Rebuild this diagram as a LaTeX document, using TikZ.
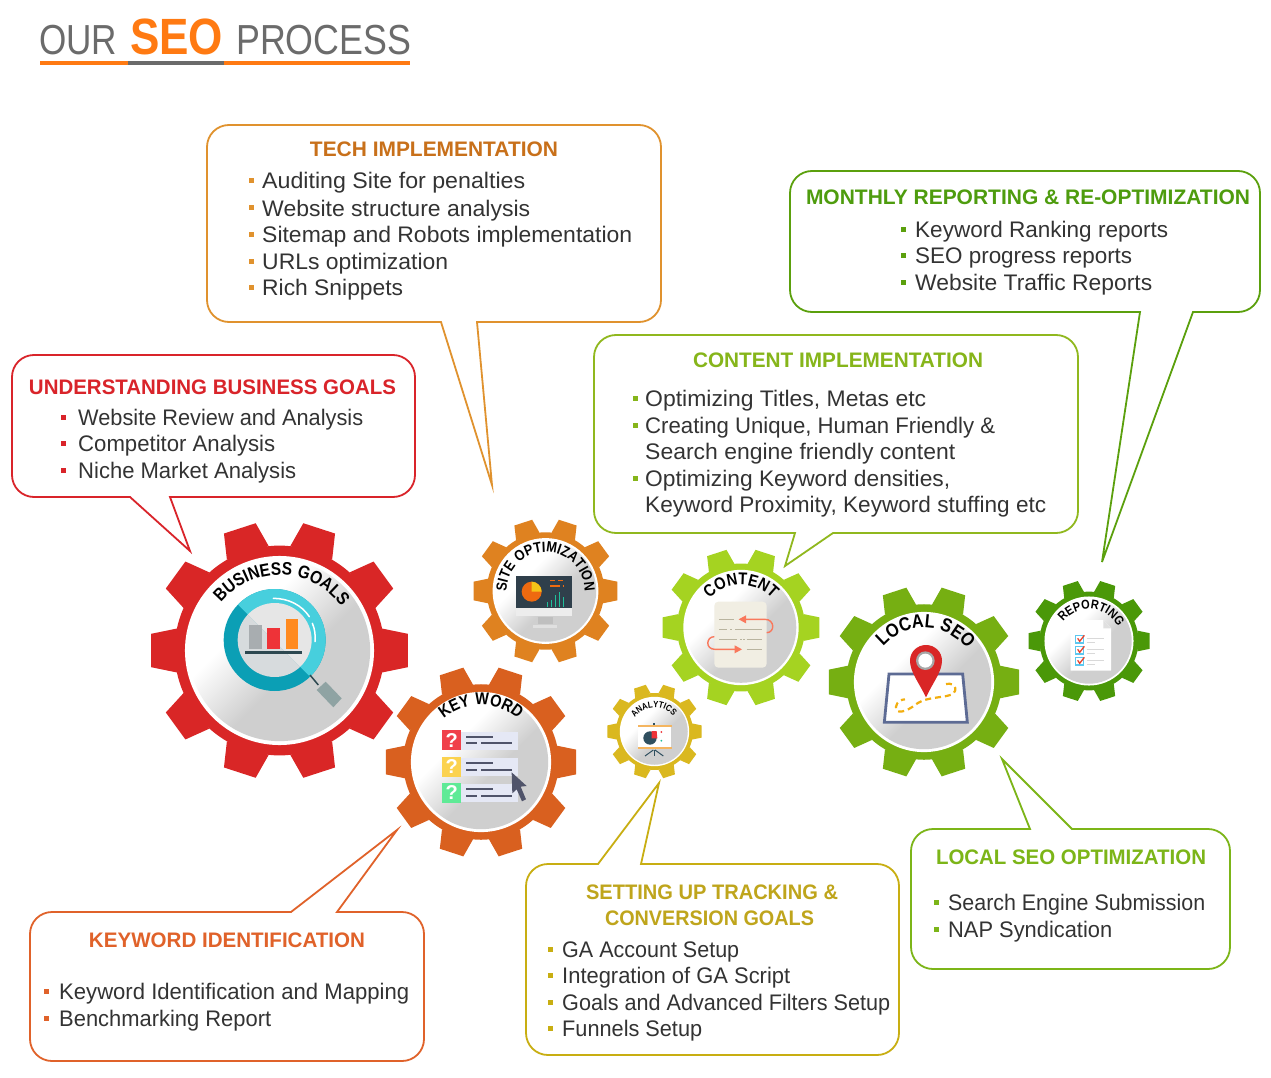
\documentclass[tikz,border=0pt]{standalone}
\usepackage{fontspec}
\usepackage{graphicx}
\usetikzlibrary{decorations.text}
\setmainfont{Liberation Sans}
\newfontfamily\arcfont[LetterSpace=3,FakeStretch=0.86]{Liberation Sans}
\definecolor{dg}{HTML}{CFCFCF}
\definecolor{cred}{HTML}{D92626}
\definecolor{ckey}{HTML}{D9601F}
\definecolor{csite}{HTML}{DF8220}
\definecolor{ccont}{HTML}{A5D321}
\definecolor{cana}{HTML}{DAB81F}
\definecolor{cloc}{HTML}{76AF12}
\definecolor{crep}{HTML}{4A9808}
\definecolor{btech}{HTML}{E0922E}
\definecolor{htech}{HTML}{C8701A}
\definecolor{bbiz}{HTML}{D9242A}
\definecolor{bmon}{HTML}{5BA00D}
\definecolor{hmon}{HTML}{4E9C0E}
\definecolor{bcont}{HTML}{90B81E}
\definecolor{hcont}{HTML}{86B51A}
\definecolor{bkey}{HTML}{E0622A}
\definecolor{btrk}{HTML}{C8AE12}
\definecolor{htrk}{HTML}{BFA51C}
\definecolor{bloc}{HTML}{7CB518}
\definecolor{txtc}{HTML}{333333}
\definecolor{torg}{HTML}{FF7A12}
\definecolor{tgry}{HTML}{6B6B6B}
\definecolor{tealL}{HTML}{47CFDD}
\definecolor{tealD}{HTML}{0B9FB5}
\definecolor{lensL}{HTML}{E6E6E6}
\definecolor{lensD}{HTML}{D7DBDD}
\definecolor{barG}{HTML}{A8ADB0}
\definecolor{barR}{HTML}{EE3338}
\definecolor{barO}{HTML}{FF8A1F}
\definecolor{shelfc}{HTML}{2D4850}
\definecolor{handc}{HTML}{8FA3A3}
\definecolor{rowbg}{HTML}{E5E8F5}
\definecolor{rowln}{HTML}{50546A}
\definecolor{scrc}{HTML}{2F3F4B}
\definecolor{pieO}{HTML}{EE6A10}
\definecolor{pieY}{HTML}{F5C518}
\definecolor{grnc}{HTML}{1FBF9A}
\definecolor{docc}{HTML}{F1EEE3}
\definecolor{llc}{HTML}{B9B49F}
\definecolor{arwc}{HTML}{F9785C}
\definecolor{brdc}{HTML}{F4B560}
\definecolor{anapie}{HTML}{2F4F5F}
\definecolor{mapc}{HTML}{5D6B94}
\definecolor{dashY}{HTML}{F2AE0E}
\definecolor{chkb}{HTML}{5CC8F0}
\definecolor{chkr}{HTML}{E8402A}
\pgfdeclareverticalshading{discsh}{100bp}{color(0bp)=(dg);color(44bp)=(dg);color(62bp)=(white);color(100bp)=(white)}
\tikzset{
 bodytext/.style={anchor=base west,inner sep=0pt,text=txtc,font=\fontsize{22.5}{24}\selectfont},
 headtext/.style={anchor=base,inner sep=0pt,font=\fontsize{21}{24}\selectfont\bfseries},
 bubble/.style={line width=1.8pt,fill=white},
 zA/.style={x={(0.33333pt,0pt)},y={(0pt,-0.33333pt)},shift={(140pt,-510pt)}},
 zB/.style={x={(0.33333pt,0pt)},y={(0pt,-0.33333pt)},shift={(470pt,-510pt)}},
 zC/.style={x={(0.33333pt,0pt)},y={(0pt,-0.33333pt)},shift={(820pt,-570pt)}},
}
\newcommand{\gearbody}[4]{%
 \begin{scope}[shift={(#1,-#2)}]
 \fill[#4] (0,0) circle[radius={0.81*#3}];
 \foreach \a in {0,36,...,324}{
  \fill[#4] ({\a+12.1}:{0.81*#3}) -- ({\a+7.4}:#3) -- ({\a-7.4}:#3) -- ({\a-12.1}:{0.81*#3}) -- cycle;}
 \fill[white] (0,0) circle[radius={0.73*#3}];
 \shade[shading=discsh,shading angle=45] (0,0) circle[radius={0.70*#3}];
 \end{scope}}
\newcommand{\arctext}[7]{%
 \path[decorate,decoration={text along path,text align=center,
   text={|\fontsize{#6}{#6}\selectfont\arcfont\bfseries|#7}}]
   ([shift={({#4+#5}:#3)}]#1,-#2) arc[start angle={#4+#5},end angle={#4-#5},radius=#3];}
\newcommand{\bubblebot}[9]{%
 \draw[bubble,draw=#5,rounded corners=22pt] (#9,-#4) -- (#3,-#4) -- (#3,-#2) -- (#1,-#2) -- (#1,-#4) [sharp corners] -- (#6,-#4) -- (#7,-#8) -- cycle;}
\newcommand{\bubbletop}[9]{%
 \draw[bubble,draw=#5,rounded corners=22pt] (#9,-#2) -- (#3,-#2) -- (#3,-#4) -- (#1,-#4) -- (#1,-#2) [sharp corners] -- (#6,-#2) -- (#7,-#8) -- cycle;}
\newcommand{\blt}[3]{\fill[#3] ({#1-2.5},{-#2-2.5}) rectangle ({#1+2.5},{-#2+2.5});}
\newcommand{\lin}[5]{\node[bodytext] (#1) at (#2,{-#3-8}) {\resizebox{#4pt}{\height}{#5}};}
\newcommand{\hd}[6]{\node[headtext,text=#5] (#1) at (#2,{-#3-7.5}) {\resizebox{#4pt}{\height}{#6}};}
\begin{document}
\begin{tikzpicture}[x=1pt,y=1pt]
\useasboundingbox (0,0) rectangle (1271,-1078);
\fill[white] (0,0) rectangle (1271,-1078);
\node[anchor=base west,inner sep=0pt,text=tgry] (tour) at (39,-55) {\resizebox{78pt}{\height}{\fontsize{42}{42}\selectfont OUR}};
\node[anchor=base west,inner sep=0pt,text=torg] (tseo) at (130,-55) {\resizebox{93pt}{\height}{\fontsize{51}{51}\selectfont\bfseries SEO}};
\node[anchor=base west,inner sep=0pt,text=tgry] (tproc) at (236,-55) {\resizebox{175pt}{\height}{\fontsize{42}{42}\selectfont PROCESS}};
\fill[torg] (40,-61) rectangle (128,-65);
\fill[tgry] (128,-61) rectangle (224,-65);
\fill[torg] (224,-61) rectangle (410,-65);
\gearbody{279.5}{650.5}{129.5}{cred}
\gearbody{481}{762}{96}{ckey}
\gearbody{545.5}{591}{72.5}{csite}
\gearbody{741}{627.5}{79}{ccont}
\gearbody{654.5}{731.5}{47.5}{cana}
\gearbody{924}{682}{96}{cloc}
\gearbody{1089}{641}{61}{crep}
\arctext{279.5}{650.5}{75.5}{88}{85}{18}{BUSINESS GOALS}
\arctext{481}{762}{57}{90}{85}{17}{KEY WORD}
\arctext{545.5}{591}{39}{90}{110}{14.8}{SITE OPTIMIZATION}
\arctext{741}{627.5}{42.5}{90}{85}{17}{CONTENT}
\arctext{654.5}{731.5}{24}{92}{85}{9}{ANALYTICS}
\arctext{924}{682}{54}{88}{85}{19}{LOCAL SEO}
\arctext{1089}{641}{32}{85}{85}{12.8}{REPORTING}
% business icon
\begin{scope}[zA]
 \fill[tealD] (404,390) circle[radius=153];
 \begin{scope}
  \clip (200,190) -- (600,590) -- (620,590) -- (620,170) -- (200,170) -- cycle;
  \fill[tealL] (404,390) circle[radius=153];
  \fill[lensL] (404,390) circle[radius=111];
 \end{scope}
 \begin{scope}
  \clip (200,190) -- (600,590) -- (200,590) -- cycle;
  \fill[lensD] (404,390) circle[radius=111];
 \end{scope}
 \draw[white,line width=1.5pt,line cap=round] (400,265) .. controls (445,265) and (485,285) .. (508,320);
 \draw[white,line width=1.5pt,line cap=round] (517,340) .. controls (524,355) and (527,375) .. (525,395);
 \fill[barG] (328,345) rectangle (365,418);
 \fill[barR] (382,355) rectangle (420,418);
 \fill[barO] (437,328) rectangle (473,418);
 \fill[shelfc] (315,422) rectangle (485,432);
 \draw[shelfc,line width=1.5pt] (510,495) -- (535,525);
 \fill[handc] (557,515) -- (605,565) -- (580,592) -- (530,540) -- cycle;
\end{scope}
% keyword icon
\begin{scope}[zA]
 \foreach \yy/\cc in {661/F0404A,740/FBD24F,818/5FEA96}{
  \definecolor{rowc}{HTML}{\cc}
  \fill[rowbg] (963,\yy+4) rectangle (1133,\yy+59);
  \fill[rowc] (907,\yy) rectangle (963,\yy+60);
  \fill[rowln] (977,\yy+17) rectangle (1060,\yy+23);
  \fill[rowln] (977,\yy+36) rectangle (1012,\yy+42);
  \fill[rowln] (1022,\yy+36) rectangle (1115,\yy+42);
 }
 \node[text=white,inner sep=0pt,font=\fontsize{20}{20}\selectfont\bfseries] (q1) at (935,691) {?};
 \node[text=white,inner sep=0pt,font=\fontsize{20}{20}\selectfont\bfseries] (q2) at (935,770) {?};
 \node[text=white,inner sep=0pt,font=\fontsize{20}{20}\selectfont\bfseries] (q3) at (935,848) {?};
 \fill[rowln] (1115,787) -- (1160,828) -- (1142,830) -- (1158,868) -- (1146,874) -- (1130,838) -- (1117,850) -- cycle;
\end{scope}
% site icon
\begin{scope}[zB]
 \fill[black!7] (138,295) rectangle (305,318);
 \fill[black!25] (205,320) rectangle (250,342);
 \fill[black!12] (190,345) rectangle (260,353);
 \fill[scrc] (138,198) rectangle (305,295);
 \fill[pieO] (185,245) circle[radius=30];
 \fill[pieY] (185,245) -- (185,215) .. controls (200,215) and (215,228) .. (215,245) -- cycle;
 \foreach \xx/\tp in {233/275,245/270,257/255,268/245,281/262}{\draw[grnc,line width=1.5pt] (\xx,290) -- (\xx,\tp);}
 \foreach \aa/\bb/\yy in {240/255/212,265/280/212,240/270/228,278/283/228}{\draw[pieO,line width=1.1pt] (\aa,\yy) -- (\bb,\yy);}
\end{scope}
% content icon
\begin{scope}[zB]
 \fill[docc,rounded corners=4pt] (733,275) rectangle (890,473);
 \foreach \aa/\bb/\yy in {748/792/328,748/770/358,780/785/358,795/875/358,748/800/388,810/815/388,820/825/388,830/875/388,830/875/418}{\draw[llc,line width=1.1pt] (\aa,\yy) -- (\bb,\yy);}
 \draw[arwc,line width=1.4pt] (820,328) -- (885,328) .. controls (915,328) and (915,368) .. (890,368);
 \fill[arwc] (806,328) -- (828,316) -- (828,340) -- cycle;
 \draw[arwc,line width=1.4pt] (733,380) .. controls (708,380) and (705,418) .. (735,418) -- (802,418);
 \fill[arwc] (816,418) -- (794,406) -- (794,430) -- cycle;
\end{scope}
% analytics icon
\begin{scope}[zB]
 \fill[white] (505,650) rectangle (603,712);
 \fill[brdc] (503,645) rectangle (605,650);
 \fill[brdc] (503,712) rectangle (605,717);
 \fill[anapie] (550,638) rectangle (555,645);
 \fill[anapie] (540,684) circle[radius=20];
 \fill[barR] (545,663) -- (560,663) -- (562,685) -- (545,685) -- cycle;
 \fill[barR] (574,666) circle[radius=3];
 \fill[grnc] (574,692) circle[radius=3];
 \draw[anapie,line width=1pt] (550,720) -- (525,738);
 \draw[anapie,line width=1pt] (555,720) -- (580,738);
 \draw[anapie,line width=1pt] (552,720) -- (552,738);
\end{scope}
% local icon
\begin{scope}[zC]
 \draw[mapc,fill=white,line width=2.8pt] (207,312) -- (428,312) -- (442,457) -- (193,457) -- cycle;
 \draw[dashY,line width=2.2pt,dash pattern=on 6pt off 4pt] (378,342) .. controls (410,335) and (420,372) .. (380,378) .. controls (340,385) and (310,385) .. (285,405) .. controls (260,425) and (225,435) .. (228,410) .. controls (230,395) and (245,388) .. (255,388);
 \fill[cred] (318,382) .. controls (295,335) and (270,305) .. (270,272) .. controls (270,245) and (292,225) .. (318,225) .. controls (344,225) and (366,245) .. (366,272) .. controls (366,305) and (340,335) .. (318,382);
 \fill[black!35] (316,272) circle[radius=28];
 \fill[white] (316,272) circle[radius=21];
\end{scope}
% reporting icon
\begin{scope}[zC]
 \fill[white] (752,150) -- (850,150) -- (873,175) -- (873,302) -- (752,302) -- cycle;
 \fill[black!12] (850,150) -- (873,175) -- (850,175) -- cycle;
 \foreach \yy in {196,229,262}{
  \draw[chkb,fill=white,line width=1.1pt] (767,\yy) rectangle (790,\yy+23);
  \draw[chkr,line width=1.3pt] (773,\yy+9) -- (779,\yy+18) -- (793,\yy);
  \draw[black!15,line width=.8pt] (800,\yy+9) -- (852,\yy+9);
  \draw[black!15,line width=.8pt] (800,\yy+22) -- (825,\yy+22);
 }
\end{scope}
% bubbles
\bubblebot{207}{125}{661}{322}{btech}{441}{492}{485}{477}
\hd{h1}{434}{149}{248}{htech}{TECH IMPLEMENTATION}
\foreach \yy in {181,208,234,261,287}{\blt{251}{\yy}{btech}}
\lin{t11}{262}{181}{263}{Auditing Site for penalties}
\lin{t12}{262}{208}{268}{Website structure analysis}
\lin{t13}{262}{234}{370}{Sitemap and Robots implementation}
\lin{t14}{262}{261}{186}{URLs optimization}
\lin{t15}{262}{287}{141}{Rich Snippets}
\bubblebot{12}{355}{415}{497}{bbiz}{130}{190}{551}{170}
\hd{h2}{212.5}{387}{367}{bbiz}{UNDERSTANDING BUSINESS GOALS}
\foreach \yy in {417,443,470}{\blt{63}{\yy}{bbiz}}
\lin{t21}{78}{417}{285}{Website Review and Analysis}
\lin{t22}{78}{443}{197}{Competitor Analysis}
\lin{t23}{78}{470}{218}{Niche Market Analysis}
\bubblebot{790}{171}{1260}{312}{bmon}{1140}{1102}{562}{1193}
\hd{h3}{1028}{197}{444}{hmon}{MONTHLY REPORTING \& RE-OPTIMIZATION}
\foreach \yy in {229,255,282}{\blt{903}{\yy}{bmon}}
\lin{t31}{915}{229}{253}{Keyword Ranking reports}
\lin{t32}{915}{255}{217}{SEO progress reports}
\lin{t33}{915}{282}{237}{Website Traffic Reports}
\bubblebot{594}{335}{1078}{533}{bcont}{795}{785}{566}{833}
\hd{h4}{838}{360}{290}{hcont}{CONTENT IMPLEMENTATION}
\foreach \yy in {398,425,478}{\blt{635}{\yy}{hcont}}
\lin{t41}{645}{398}{281}{Optimizing Titles, Metas etc}
\lin{t42}{645}{425}{350}{Creating Unique, Human Friendly \&}
\lin{t43}{645}{451}{310}{Search engine friendly content}
\lin{t44}{645}{478}{305}{Optimizing Keyword densities,}
\lin{t45}{645}{504}{401}{Keyword Proximity, Keyword stuffing etc}
\bubbletop{30}{912}{424}{1061}{bkey}{291}{397}{830}{337}
\hd{h5}{227}{940}{276}{bkey}{KEYWORD IDENTIFICATION}
\foreach \yy in {991,1018}{\blt{46}{\yy}{bkey}}
\lin{t51}{59}{991}{350}{Keyword Identification and Mapping}
\lin{t52}{59}{1018}{212}{Benchmarking Report}
\bubbletop{526}{864}{899}{1055}{btrk}{598}{659}{783}{641}
\hd{h6}{712}{892}{252}{htrk}{SETTING UP TRACKING \&}
\hd{h7}{709.5}{918}{209}{htrk}{CONVERSION GOALS}
\foreach \yy in {949,975,1002,1028}{\blt{550}{\yy}{btrk}}
\lin{t61}{562}{949}{177}{GA Account Setup}
\lin{t62}{562}{975}{228}{Integration of GA Script}
\lin{t63}{562}{1002}{328}{Goals and Advanced Filters Setup}
\lin{t64}{562}{1028}{140}{Funnels Setup}
\bubbletop{911}{829}{1230}{969}{bloc}{1030}{1002}{759}{1072}
\hd{h8}{1071}{857}{270}{bloc}{LOCAL SEO OPTIMIZATION}
\foreach \yy in {902,929}{\blt{936}{\yy}{bloc}}
\lin{t71}{948}{902}{257}{Search Engine Submission}
\lin{t72}{948}{929}{164}{NAP Syndication}
\end{tikzpicture}
\end{document}
